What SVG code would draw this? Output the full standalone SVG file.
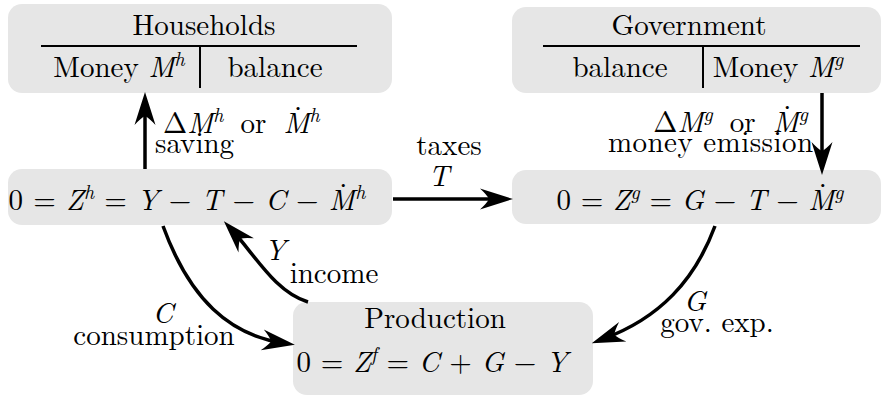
<svg xmlns="http://www.w3.org/2000/svg" width="884" height="397" viewBox="0 0 884 397">
<style>
text{font-family:"Latin Modern Roman","CMU Serif","Liberation Serif","Tinos","Noto Serif","FreeSerif","Nimbus Roman","Times New Roman","DejaVu Serif",serif;font-size:29px;fill:#000}
.i{font-style:italic}
.s{font-size:20px;font-style:italic}
.d{font-style:normal}
.box{fill:#e6e6e6;stroke:none}
.sep{stroke:#000;stroke-width:2;fill:none}
.arr{stroke:#000;stroke-width:3.5;fill:none;marker-end:url(#ah)}
.m{text-anchor:middle}
.e{text-anchor:end}
</style>
<defs>
<marker id="ah" markerUnits="userSpaceOnUse" orient="auto" refX="0" refY="0" markerWidth="40" markerHeight="30" overflow="visible">
<path d="M12,0 L-21,-10.5 Q-14,-4 -12,0 Q-14,4 -21,10.5 Z" fill="#000"/>
</marker>
</defs>
<g id="households">
<rect class="box" x="8" y="4" width="384" height="89" rx="14"/>
<line class="sep" x1="41" y1="46" x2="357" y2="46"/>
<line class="sep" x1="200" y1="46" x2="200" y2="88"/>
<text class="m" x="204" y="35">Households</text>
<text class="m" x="119" y="77">Money <tspan class="i">M</tspan><tspan class="s" dy="-11">h</tspan></text>
<text class="m" x="275" y="77">balance</text>
</g>
<g id="government">
<rect class="box" x="512" y="7" width="369" height="86" rx="14"/>
<line class="sep" x1="543" y1="46" x2="860" y2="46"/>
<line class="sep" x1="703" y1="46" x2="703" y2="88"/>
<text class="m" x="689" y="35">Government</text>
<text class="m" x="620" y="77">balance</text>
<text class="m" x="778" y="77">Money <tspan class="i">M</tspan><tspan class="s" dy="-11">g</tspan></text>
</g>
<g id="households-eq">
<rect class="box" x="8" y="169" width="384" height="56" rx="14"/>
<text class="m" x="187" y="210" textLength="357" lengthAdjust="spacing">0 = <tspan class="i">Z</tspan><tspan class="s" dy="-11">h</tspan><tspan dy="11"> = </tspan><tspan class="i">Y</tspan> − <tspan class="i">T</tspan> − <tspan class="i">C</tspan> − <tspan class="i">M</tspan><tspan class="d" dx="-15.7" dy="-7">˙</tspan><tspan class="s" dx="7.6" dy="-4">h</tspan></text>
</g>
<g id="government-eq">
<rect class="box" x="512" y="170" width="369" height="54" rx="14"/>
<text class="m" x="700" y="210" textLength="287" lengthAdjust="spacing">0 = <tspan class="i">Z</tspan><tspan class="s" dy="-11">g</tspan><tspan dy="11"> = </tspan><tspan class="i">G</tspan> − <tspan class="i">T</tspan> − <tspan class="i">M</tspan><tspan class="d" dx="-15.7" dy="-7">˙</tspan><tspan class="s" dx="7.6" dy="-4">g</tspan></text>
</g>
<g id="production">
<rect class="box" x="293" y="302" width="300" height="93" rx="14"/>
<text class="m" x="435" y="328">Production</text>
<text class="m" x="432" y="372" textLength="271" lengthAdjust="spacing">0 = <tspan class="i">Z</tspan><tspan class="s" dy="-11">f</tspan><tspan dy="11"> = </tspan><tspan class="i">C</tspan> + <tspan class="i">G</tspan> − <tspan class="i">Y</tspan></text>
</g>
<g id="connectors">
<line class="arr" x1="145" y1="169" x2="145" y2="104"/>
<line class="arr" x1="822" y1="93" x2="822" y2="163"/>
<line class="arr" x1="393" y1="199" x2="501" y2="199"/>
<path class="arr" d="M163,226 C190,300 230,335 283,343"/>
<path class="arr" d="M308,302 C275,292 255,255 232,230"/>
<path class="arr" d="M715,226 C695,280 660,318 603,339"/>
</g>
<g id="labels">
<text x="163" y="133">Δ<tspan class="i">M</tspan><tspan class="s" dy="-11">h</tspan><tspan dx="7.5" dy="11"> or </tspan><tspan class="i" dx="7.5">M</tspan><tspan class="d" dx="-15.7" dy="-7">˙</tspan><tspan class="s" dx="7.6" dy="-4">h</tspan></text>
<text x="155" y="153">saving</text>
<text class="e" x="808" y="132">Δ<tspan class="i">M</tspan><tspan class="s" dy="-11">g</tspan><tspan dx="7.5" dy="11"> or </tspan><tspan class="i" dx="7.5">M</tspan><tspan class="d" dx="-15.7" dy="-7">˙</tspan><tspan class="s" dx="7.6" dy="-4">g</tspan></text>
<text class="e" x="813" y="152" textLength="205" lengthAdjust="spacing">money emission</text>
<text class="m" x="449" y="155">taxes</text>
<text class="m i" x="439" y="186">T</text>
<text class="m i" x="163" y="323">C</text>
<text class="m" x="154" y="345">consumption</text>
<text class="m i" x="275" y="260">Y</text>
<text class="m" x="334" y="283">income</text>
<text class="m i" x="695" y="311">G</text>
<text class="m" x="717" y="332">gov. exp.</text>
</g>
</svg>
